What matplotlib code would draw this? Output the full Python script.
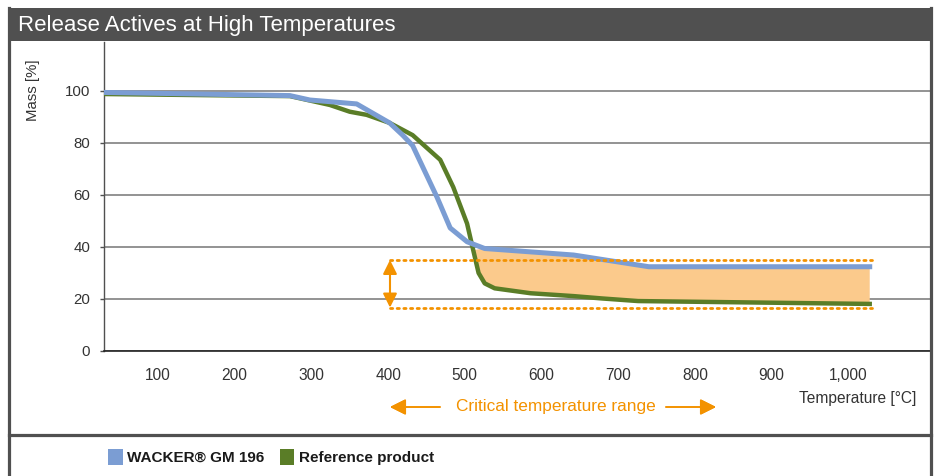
import numpy as np
import matplotlib.pyplot as plt
from matplotlib.patches import Rectangle, Patch
from matplotlib.lines import Line2D

plt.rcParams['font.family'] = ['Liberation Sans', 'DejaVu Sans']

# Thermogravimetric curves
temp_wacker = [31, 272, 298, 359, 402, 419, 432, 464, 481, 503, 526, 642, 740, 1028]
mass_wacker = [99.4, 98.2, 96.5, 95.0, 87.7, 83.0, 79.0, 59.0, 47.3, 42.0, 39.4, 36.9, 32.4, 32.4]

temp_ref = [30, 272, 324, 350, 372, 402, 432, 468, 485, 503, 511, 518, 526, 539, 586, 642, 679, 726, 1028]
mass_ref = [98.8, 98.0, 94.6, 92.0, 90.8, 87.7, 83.0, 73.5, 63.0, 49.0, 38.8, 30.0, 26.0, 24.1, 22.2, 21.1, 20.2, 19.2, 18.1]

# critical range markers
range_start, range_end = 402.5, 1031
range_low, range_high = 16.7, 35.0
fill_from = 509

xticks = [100, 200, 300, 400, 500, 600, 700, 800, 900, 1000]
xtick_labels = ['100', '200', '300', '400', '500', '600', '700', '800', '900', '1,000']
yticks = [0, 20, 40, 60, 80, 100]

blue = '#7b9dd3'
green = '#5a7d27'
orange = '#f39200'
fill_col = '#fbca8c'
frame = '#505050'
text_col = '#333333'

W, H = 940, 476
fig = plt.figure(figsize=(W / 100, H / 100), dpi=100)

def fx(px):
    return px / W

def fy(py):
    return 1 - py / H

# frame and title bar
fig.patches.append(Rectangle((fx(8), fy(41)), fx(924), 33 / H, transform=fig.transFigure,
                             facecolor=frame, edgecolor='none', zorder=0))
for xs, ys in [([9, 9], [8, H]), ([931, 931], [8, H]), ([9, 931], [435, 435])]:
    fig.add_artist(Line2D([fx(v) for v in xs], [fy(v) for v in ys], color=frame, lw=2.3))
fig.text(fx(18), fy(25), 'Release Actives at High Temperatures', color='white',
         fontsize=16, va='center', ha='left')

ax = fig.add_axes([fx(104), fy(351), fx(826), (351 - 42) / H])
ax.set_xlim(29.6, 1106.6)
ax.set_ylim(0, 118.8)

ax.set_yticks(yticks)
ax.yaxis.grid(True, color='#808080', lw=1.2)
ax.set_axisbelow(True)
ax.set_xticks(xticks)
ax.set_xticklabels(xtick_labels)
ax.tick_params(axis='x', length=0, pad=12, labelsize=11.2, labelcolor=text_col)
ax.tick_params(axis='y', length=3, width=1, color=frame, pad=7, labelsize=10.8, labelcolor=text_col)
for s in ['top', 'right']:
    ax.spines[s].set_visible(False)
ax.spines['left'].set_color(frame)
ax.spines['left'].set_linewidth(1.0)
ax.spines['bottom'].set_color('#222222')
ax.spines['bottom'].set_linewidth(1.2)

# orange area between the two curves
tw, mw = np.array(temp_wacker), np.array(mass_wacker)
tr, mr = np.array(temp_ref), np.array(mass_ref)
sel_w = tw >= fill_from
sel_r = tr >= fill_from
poly_x = np.concatenate([tw[sel_w], tr[sel_r][::-1]])
poly_y = np.concatenate([mw[sel_w], mr[sel_r][::-1]])
ax.fill(poly_x, poly_y, color=fill_col, lw=0, zorder=2)

ax.plot(temp_ref, mass_ref, color=green, lw=3.2, zorder=3, solid_joinstyle='round')
ax.plot(temp_wacker, mass_wacker, color=blue, lw=3.6, zorder=4, solid_joinstyle='round')

for level in [range_low, range_high]:
    ax.plot([range_start, range_end], [level, level], color=orange, lw=2.0,
            linestyle=(0, (0.8, 1.6)), dash_capstyle='round', zorder=5)
ax.annotate('', xy=(range_start, range_low), xytext=(range_start, range_high),
            arrowprops=dict(arrowstyle='<|-|>', color=orange, lw=1.5,
                            mutation_scale=21, shrinkA=0, shrinkB=0), zorder=5)

# axis titles
fig.text(fx(33), fy(90), 'Mass [%]', rotation=90, ha='center', va='center',
         fontsize=10.8, color=text_col)
fig.text(fx(916), fy(398), 'Temperature [°C]', ha='right', va='center',
         fontsize=11.2, color=text_col)

# critical temperature range note
fig.text(fx(556), fy(407), 'Critical temperature range', ha='center', va='center',
         fontsize=12.4, color=orange)
for tail, tip in [(440, 390), (666, 716)]:
    fig.add_artist(plt.annotate('', xy=(fx(tip), fy(407)), xytext=(fx(tail), fy(407)),
                                xycoords='figure fraction', textcoords='figure fraction',
                                arrowprops=dict(arrowstyle='-|>', color=orange, lw=1.2,
                                                mutation_scale=24, shrinkA=0, shrinkB=0)))

handles = [Patch(facecolor=blue, edgecolor='none', label='WACKER® GM 196'),
           Patch(facecolor=green, edgecolor='none', label='Reference product')]
leg = fig.legend(handles=handles, loc='center left', bbox_to_anchor=(fx(108), fy(457)),
                 ncol=2, frameon=False, handlelength=0.95, handleheight=1.25,
                 handletextpad=0.3, columnspacing=1.0, borderpad=0, borderaxespad=0,
                 prop={'size': 11, 'weight': 'bold'})
for t in leg.get_texts():
    t.set_color('#1a1a1a')

fig.savefig('out.png', dpi=100)
